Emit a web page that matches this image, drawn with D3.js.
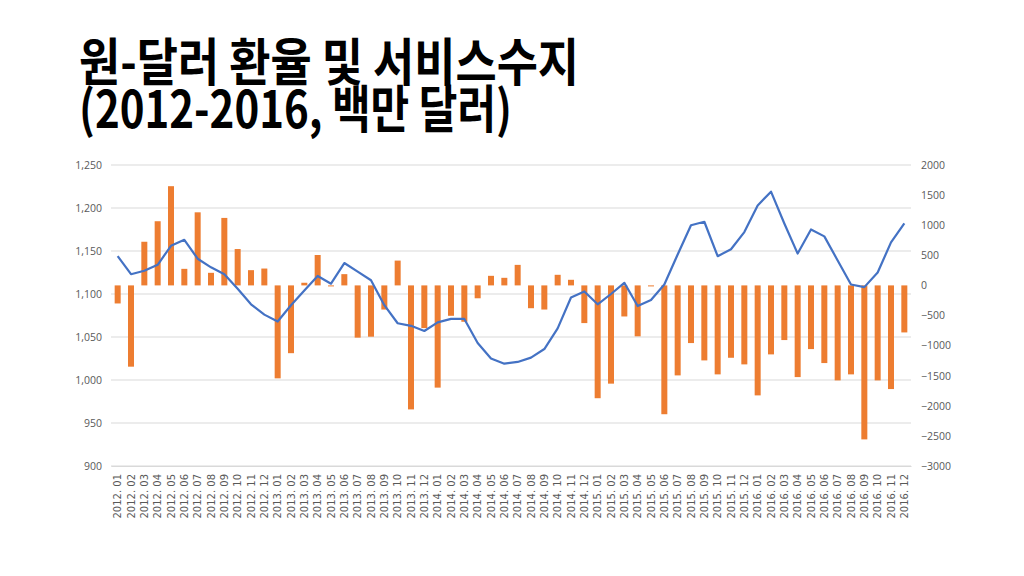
<!DOCTYPE html>
<html><head><meta charset="utf-8">
<script src="https://cdn.jsdelivr.net/npm/d3@7"></script>
<style>
html,body{margin:0;padding:0;background:#fff;}
svg{display:block;}
</style></head>
<body>
<svg id="chart" width="1024" height="576"></svg>
<script>
const months = [];
const years = ["2012","2013","2014","2015","2016"];
years.forEach(y => { for (let m = 1; m <= 12; m++) months.push(y + ". " + String(m).padStart(2, "0")); });

// 원-달러 환율 (left axis)
const exchangeRate = [
  1144,1123,1127,1134,1156,1163,1141,1131,1123,1106,1088,1076,
  1068,1087,1104,1121,1112,1136,1126,1116,1087,1066,1063,1057,
  1067,1071,1071,1043,1025,1019,1021,1026,1036,1060,1096,1103,
  1088,1100,1113,1086,1093,1111,1146,1180,1184,1144,1152,1172,
  1203,1219,1182,1147,1175,1167,1139,1111,1108,1125,1160,1182
];
// 서비스수지 (right axis, 백만 달러)
const serviceBalance = [
  -300,-1350,725,1066,1648,275,1214,209,1121,604,253,280,
  -1544,-1126,44,505,-16,187,-868,-852,-401,412,-2060,-709,
  -1698,-505,-604,-214,159,126,341,-379,-401,176,93,-626,
  -1874,-1632,-516,-846,-10,-2140,-1495,-958,-1246,-1478,-1202,-1312,
  -1827,-1146,-908,-1523,-1058,-1290,-1578,-1478,-2558,-1578,-1722,-781
];
const leftTicks = [900,950,1000,1050,1100,1150,1200,1250];
const rightTicks = [-3000,-2500,-2000,-1500,-1000,-500,0,500,1000,1500,2000];
const titleLines = ["원-달러 환율 및 서비스수지", "(2012-2016, 백만 달러)"];
const titleWidths = [500, 433];

const svg = d3.select("#chart");
const plot = {left: 111, right: 911, top: 165, bottom: 466};

const title = svg.append("text")
  .attr("font-family", "'Noto Sans CJK KR', sans-serif")
  .attr("font-weight", 700).attr("font-size", 51).attr("fill", "#000");
title.selectAll("tspan").data(titleLines).join("tspan")
  .attr("x", 79).attr("y", (d, i) => 81 + i * 47)
  .attr("textLength", (d, i) => titleWidths[i])
  .attr("lengthAdjust", "spacingAndGlyphs")
  .text(d => d);

const x = d3.scaleBand().domain(months).range([plot.left, plot.right]).paddingInner(0.55).paddingOuter(0.275);
const xc = d => x(d) + x.bandwidth() / 2;
const yL = d3.scaleLinear().domain([900, 1250]).range([plot.bottom, plot.top]);
const yR = d3.scaleLinear().domain([-3000, 2000]).range([plot.bottom, plot.top]);

// gridlines
svg.append("g").selectAll("line").data(leftTicks).join("line")
  .attr("x1", plot.left).attr("x2", plot.right)
  .attr("y1", d => yL(d)).attr("y2", d => yL(d))
  .attr("stroke", "#d9d9d9").attr("stroke-width", 1);

// left axis
const axL = svg.append("g").attr("transform", `translate(${plot.left},0)`)
  .call(d3.axisLeft(yL).tickValues(leftTicks).tickFormat(d3.format(",")).tickSize(0).tickPadding(9));
axL.select(".domain").remove();
axL.selectAll("text").attr("font-family", "'Open Sans', 'Liberation Sans', sans-serif").attr("font-size", 10.5).attr("fill", "#595959");

// right axis
const axR = svg.append("g").attr("transform", `translate(${plot.right},0)`)
  .call(d3.axisRight(yR).tickValues(rightTicks).tickFormat(d3.format("d")).tickSize(0).tickPadding(10));
axR.select(".domain").remove();
axR.selectAll("text").attr("font-family", "'Open Sans', 'Liberation Sans', sans-serif").attr("font-size", 10.5).attr("fill", "#595959");

// x axis labels
const axX = svg.append("g").attr("transform", `translate(0,${plot.bottom})`)
  .call(d3.axisBottom(x).tickSize(0).tickPadding(0));
axX.select(".domain").attr("stroke", "#d9d9d9");
axX.selectAll("text")
  .attr("font-family", "'DejaVu Sans', sans-serif").attr("font-size", 10).attr("fill", "#595959")
  .attr("transform", "rotate(-90)").attr("text-anchor", "end")
  .attr("x", -8).attr("y", 0).attr("dy", "0.35em");

// bars
svg.append("g").selectAll("rect").data(months).join("rect")
  .attr("x", d => x(d))
  .attr("width", x.bandwidth())
  .attr("y", (d, i) => Math.min(yR(serviceBalance[i]), yR(0)))
  .attr("height", (d, i) => Math.max(Math.abs(yR(serviceBalance[i]) - yR(0)), 1))
  .attr("fill", "#ED7D31");

// line
const line = d3.line().x((d, i) => xc(months[i])).y(d => yL(d));
svg.append("path").datum(exchangeRate)
  .attr("d", line).attr("fill", "none")
  .attr("stroke", "#4472C4").attr("stroke-width", 2.2).attr("stroke-linejoin", "round");
</script>
</body></html>
